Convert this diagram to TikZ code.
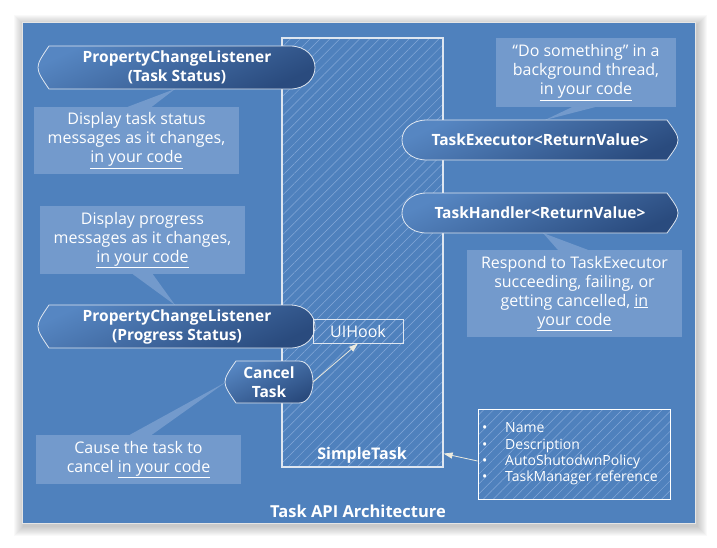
\documentclass[tikz,border=0pt]{standalone}
\usepackage{fontspec}
\setmainfont{Open Sans}
\usetikzlibrary{arrows.meta}
\usetikzlibrary{patterns.meta}
\usetikzlibrary{calc}

\definecolor{panelblue}{RGB}{79,129,189}
\definecolor{notefill}{RGB}{115,154,204}
\definecolor{hatchblue}{RGB}{132,168,216}
\definecolor{shadelight}{RGB}{86,134,194}
\definecolor{shadedark}{RGB}{42,75,126}
\definecolor{edgewhite}{RGB}{222,230,240}
\definecolor{arrowcream}{RGB}{236,234,222}

\tikzset{
  notebox/.style={fill=notefill, text=white, align=center, inner sep=0pt,
    font=\fontsize{16}{19}\selectfont},
  notetail/.style={fill=notefill},
  flowshape/.style={draw=edgewhite, line width=0.8pt, top color=shadelight,
    bottom color=shadedark, shading angle=25},
  hatched/.style={pattern={Lines[angle=45,distance=7pt,line width=0.5pt]},
    pattern color=hatchblue},
  shapetext/.style={text=white, align=center, inner sep=0pt,
    font=\bfseries\fontsize{15.5}{19}\selectfont},
  linkarrow/.style={draw=arrowcream, line width=0.8pt,
    -{Triangle[length=9pt,width=6pt,fill=arrowcream]}},
}

% arc on the left, point on the right: x1 y1 x2 y2 arc point
\newcommand{\flowarcpoint}[6]{%
  \path[flowshape] ({#1+#5},#2) -- ({#3-#6},#2)
    .. controls ({#3-0.35*#6},#2) and (#3,{#2+0.25*(#4-#2)}) .. (#3,{0.5*(#2+#4)})
    .. controls (#3,{#4-0.25*(#4-#2)}) and ({#3-0.35*#6},#4) .. ({#3-#6},#4)
    -- ({#1+#5},#4) .. controls ({#1-#5/3},{0.5*(#2+#4)}) .. ({#1+#5},#2) -- cycle;}
% point on the left, arc on the right
\newcommand{\flowpointarc}[6]{%
  \path[flowshape] ({#3-#5},#2) -- ({#1+#6},#2)
    .. controls ({#1+0.35*#6},#2) and (#1,{#2+0.25*(#4-#2)}) .. (#1,{0.5*(#2+#4)})
    .. controls (#1,{#4-0.25*(#4-#2)}) and ({#1+0.35*#6},#4) .. ({#1+#6},#4)
    -- ({#3-#5},#4) .. controls ({#3+#5/3},{0.5*(#2+#4)}) .. ({#3-#5},#2) -- cycle;}

\begin{document}
\begin{tikzpicture}[x=1pt,y=-1pt]
  \useasboundingbox (0,0) rectangle (717,547);
  % panel with soft shadow
  \foreach \i in {1,...,10}
    \fill[black,opacity=0.025] ({24-\i},{25-\i}) rectangle ({697+\i},{526+\i});
  \fill[panelblue] (22,22) rectangle (695,523);
  \draw[white!80!gray, line width=0.8pt] (22,22) rectangle (695,523);

  % SimpleTask column
  \node[hatched, draw=edgewhite, line width=1.2pt, minimum width=161pt,
    minimum height=429pt, inner sep=0pt] (simpletask) at (362.5,252.5) {};

  % notes
  \node[notebox, minimum width=205pt, minimum height=67pt] (statusnote) at (136.5,140.5)
    {Display task status\\messages as it changes,\\\underline{in your code}};
  \node[notebox, minimum width=205pt, minimum height=68pt] (progressnote) at (142.5,240)
    {Display progress\\messages as it changes,\\\underline{in your code}};
  \node[notebox, minimum width=180pt, minimum height=69pt] (worknote) at (586,72.5)
    {“Do something” in a\\background thread,\\\underline{in your code}};
  \node[notebox, minimum width=215pt, minimum height=87pt] (respondnote) at (574.5,293.5)
    {Respond to TaskExecutor\\succeeding, failing, or\\getting cancelled, \underline{in}\\\underline{your code}};
  \node[notebox, minimum width=205pt, minimum height=49pt] (cancelnote) at (138.5,459.5)
    {Cause the task to\\cancel \underline{in your code}};

  \coordinate (statustip) at (175,89);
  \coordinate (progresstip) at (175,305);
  \coordinate (worktip) at (545,120);
  \coordinate (respondtip) at (543,233);
  \coordinate (canceltip) at (226,382);
  \fill[notetail] ($(statusnote.north west)+(94,0)$) -- (statustip) -- ($(statusnote.north west)+(118,0)$) -- cycle;
  \fill[notetail] ($(progressnote.south west)+(93,0)$) -- (progresstip) -- ($(progressnote.south west)+(113,0)$) -- cycle;
  \fill[notetail] ($(worknote.south west)+(76,0)$) -- (worktip) -- ($(worknote.south west)+(99,0)$) -- cycle;
  \fill[notetail] ($(respondnote.north west)+(91,0)$) -- (respondtip) -- ($(respondnote.north west)+(121,0)$) -- cycle;
  \fill[notetail] ($(cancelnote.north west)+(94,0)$) -- (canceltip) -- ($(cancelnote.north west)+(116,0)$) -- cycle;

  % flow shapes
  \flowarcpoint{38}{46}{315}{89}{11}{25}
  \node[shapetext] (statuslistener) at (177,67.5) {PropertyChangeListener\\(Task Status)};
  \flowarcpoint{38}{305}{315}{348}{11}{25}
  \node[shapetext] (progresslistener) at (177,326.5) {PropertyChangeListener\\(Progress Status)};
  \flowpointarc{402}{120}{678}{160}{11}{25}
  \node[shapetext] (executor) at (540,140) {TaskExecutor<ReturnValue>};
  \flowpointarc{402}{193}{678}{233}{11}{25}
  \node[shapetext] (handler) at (540,213) {TaskHandler<ReturnValue>};
  \flowarcpoint{225}{361}{313}{403}{11}{14}
  \node[shapetext] (canceltask) at (269,382) {Cancel\\Task};

  % hook and attributes
  \node[hatched, draw=edgewhite, line width=0.8pt, minimum width=90pt, minimum height=24pt,
    inner sep=0pt, text=white, font=\fontsize{16}{19}\selectfont] (uihook) at (358,331) {UIHook};
  \node[hatched, draw=white, line width=0.8pt, minimum width=192pt, minimum height=90pt,
    inner sep=0pt] (attrs) at (574,454) {};
  \node[text=white, align=left, anchor=west, inner sep=0pt,
    font=\fontsize{14}{16.3}\selectfont] (attrlist) at (482,454)
    {\makebox[23pt][l]{\textbullet}Name\\\makebox[23pt][l]{\textbullet}Description\\
     \makebox[23pt][l]{\textbullet}AutoShutodwnPolicy\\\makebox[23pt][l]{\textbullet}TaskManager reference};

  \coordinate (cancelpoint) at (313,382);
  \draw[linkarrow] (cancelpoint) -- (uihook.south);
  \draw[linkarrow] ([yshift=-7pt]attrs.west) -- ([yshift=14pt]simpletask.south east);

  \node[shapetext, font=\bfseries\fontsize{16}{19}\selectfont] (simplelabel) at (362,455) {SimpleTask};
  \node[shapetext, font=\bfseries\fontsize{16.5}{19}\selectfont] (title) at (358,511) {Task API Architecture};
\end{tikzpicture}
\end{document}
